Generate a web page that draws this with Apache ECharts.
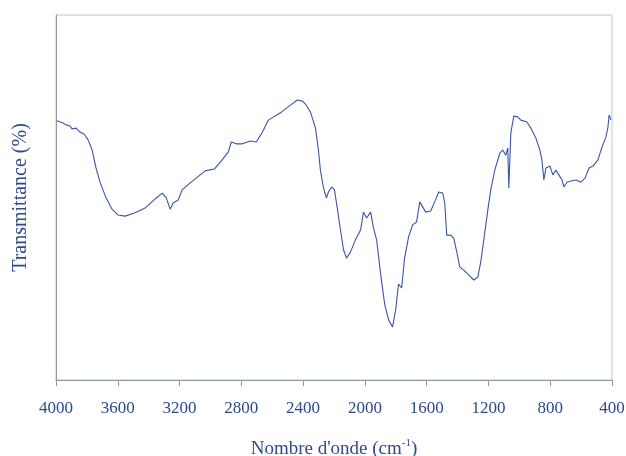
<!DOCTYPE html>
<html>
<head>
<meta charset="utf-8">
<script src="https://cdn.jsdelivr.net/npm/echarts@6/dist/echarts.min.js"></script>
<style>
  html, body { margin: 0; padding: 0; background: #fff; }
  #chart { width: 626px; height: 456px; }
</style>
</head>
<body>
<div id="chart"></div>
<script>
// nombre d'onde (cm-1)
var wavenumbers = [
  3994, 3955, 3935, 3909, 3896, 3870, 3844, 3818, 3792, 3766,
  3741, 3715, 3676, 3637, 3598, 3552, 3488, 3423, 3358, 3312,
  3286, 3261, 3241, 3209, 3183, 3131, 3034, 2975, 2936, 2884,
  2865, 2832, 2794, 2742, 2703, 2664, 2625, 2547, 2482, 2437,
  2404, 2385, 2352, 2320, 2301, 2288, 2268, 2249, 2236, 2216,
  2197, 2177, 2158, 2138, 2119, 2093, 2061, 2028, 2009, 1989,
  1963, 1944, 1924, 1898, 1872, 1846, 1821, 1801, 1782, 1762,
  1743, 1717, 1691, 1665, 1645, 1606, 1574, 1548, 1522, 1496,
  1483, 1470, 1444, 1425, 1405, 1386, 1360, 1328, 1295, 1269,
  1250, 1230, 1204, 1185, 1159, 1126, 1107, 1088, 1075, 1068,
  1055, 1036, 1010, 990, 951, 925, 893, 867, 854, 841,
  828, 802, 783, 763, 744, 724, 711, 692, 666, 633,
  601, 575, 549, 523, 491, 465, 439, 426, 419, 406
];
// transmittance (echelle relative 0-100)
var transmittance = [
  71.0, 70.4, 69.9, 69.6, 68.8, 69.0, 67.9, 67.4, 65.8, 63.0,
  58.1, 54.2, 49.9, 46.8, 45.2, 44.9, 45.8, 47.1, 49.6, 51.2,
  49.9, 46.8, 48.5, 49.3, 52.1, 54.0, 57.3, 57.8, 59.7, 62.5,
  65.2, 64.7, 64.7, 65.5, 65.2, 67.9, 71.2, 73.2, 75.3, 76.7,
  76.4, 75.6, 73.4, 69.0, 63.0, 57.5, 52.6, 49.9, 51.5, 52.9,
  52.1, 46.6, 41.1, 35.6, 33.4, 35.1, 38.4, 41.1, 46.0, 44.4,
  46.0, 41.6, 38.4, 29.0, 20.8, 16.4, 14.5, 19.2, 26.3, 25.2,
  33.4, 39.2, 42.5, 43.3, 48.8, 46.0, 46.3, 48.8, 51.5, 51.2,
  48.5, 39.7, 39.7, 38.9, 35.1, 31.0, 30.1, 28.8, 27.4, 28.2,
  32.3, 38.4, 46.6, 52.1, 57.5, 62.2, 63.0, 61.6, 63.6, 52.6,
  67.7, 72.3, 72.1, 71.2, 70.7, 69.0, 66.3, 63.0, 60.3, 54.8,
  58.1, 58.6, 56.2, 57.5, 56.2, 54.8, 52.9, 54.2, 54.5, 54.8,
  54.2, 55.3, 58.1, 58.6, 60.3, 63.8, 66.6, 69.3, 72.6, 71.2
];

var points = wavenumbers.map(function (w, i) { return [w, transmittance[i]]; });

var textColor = '#2f4a8a';
var axisColor = '#8d97a6';

var chart = echarts.init(document.getElementById('chart'));
chart.setOption({
  animation: false,
  grid: {
    left: 56, right: 14, top: 15, bottom: 76,
    outerBoundsMode: 'none',
    containLabel: false,
    show: true, borderColor: '#c4c4c4', borderWidth: 1
  },
  xAxis: {
    type: 'value',
    inverse: true,
    min: 400, max: 4000, interval: 400,
    name: "{n|Nombre d'onde (cm}{s|-1}{n|)}",
    nameLocation: 'middle',
    nameGap: 58,
    nameTextStyle: {
      rich: {
        n: { fontFamily: 'Liberation Serif', fontSize: 19, color: textColor },
        s: { fontFamily: 'Liberation Serif', fontSize: 11, color: textColor, verticalAlign: 'top', padding: [0, 0, 12, 0] }
      }
    },
    axisLine: { lineStyle: { color: axisColor, width: 1 } },
    axisTick: { show: true, inside: false, length: 6, lineStyle: { color: axisColor } },
    axisLabel: {
      fontFamily: 'Liberation Serif', fontSize: 17, color: textColor, margin: 20,
      formatter: function (v) { return String(v); }
    },
    splitLine: { show: false }
  },
  yAxis: {
    type: 'value',
    min: 0, max: 100,
    name: 'Transmittance (%)',
    nameLocation: 'middle',
    nameGap: 25,
    nameTextStyle: { fontFamily: 'Liberation Serif', fontSize: 20, color: textColor },
    axisLine: { show: true, lineStyle: { color: axisColor, width: 1 } },
    axisTick: { show: false },
    axisLabel: { show: false },
    splitLine: { show: false }
  },
  series: [{
    type: 'line',
    data: points,
    showSymbol: false,
    lineStyle: { color: '#3b55a6', width: 1.1 }
  }]
});
</script>
</body>
</html>
